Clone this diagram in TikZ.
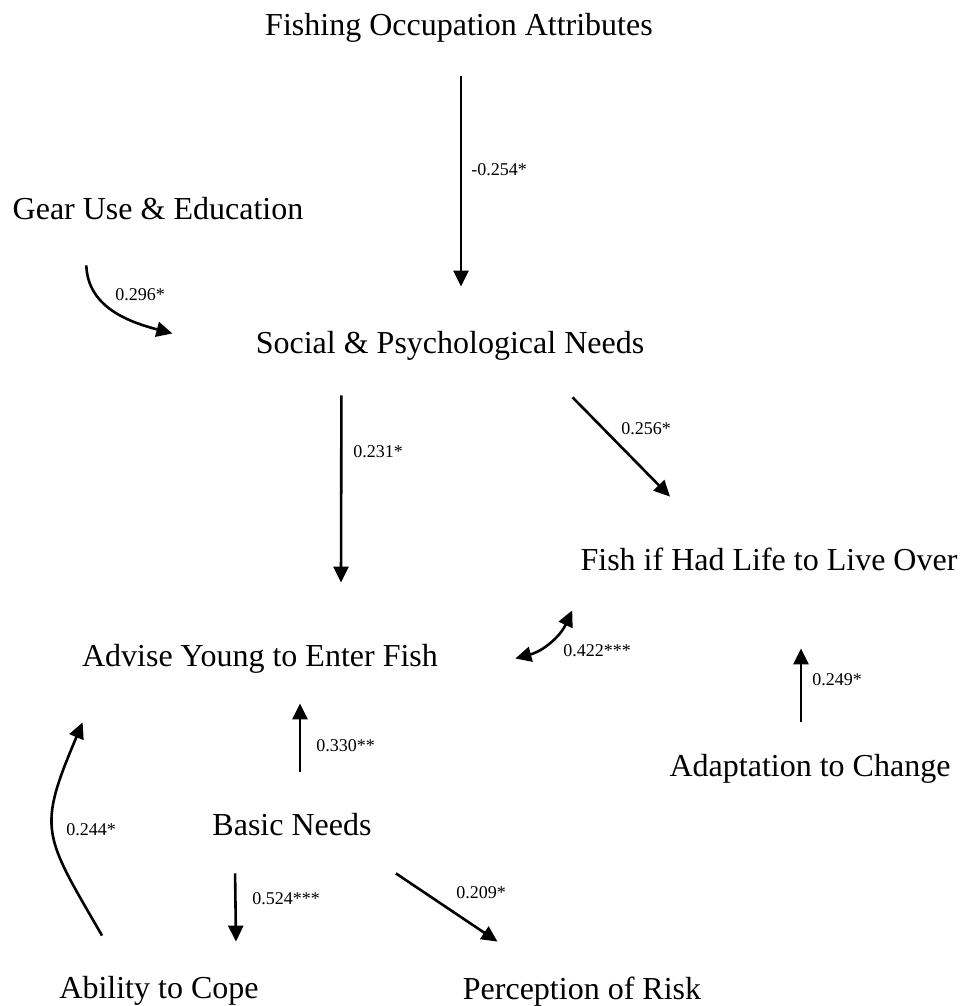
\documentclass[tikz,border=0pt]{standalone}
\usepackage{fontspec}
\setmainfont{Liberation Serif}
\usetikzlibrary{arrows.meta}
\tikzset{
  var/.style={inner sep=0pt, anchor=base, font=\fontsize{16}{19}\selectfont, text height=11pt, text depth=3.5pt},
  coef/.style={inner sep=0pt, anchor=west, font=\fontsize{9}{11}\selectfont},
  effect/.style={-{Triangle[length=8pt, width=7.5pt]}, line width=1.3pt},
  mutual/.style={{Triangle[length=8pt, width=7.5pt]}-{Triangle[length=8pt, width=7.5pt]}, line width=1.3pt},
}
\begin{document}
\begin{tikzpicture}[x=0.5pt, y=-0.5pt]
    \useasboundingbox (0,0) rectangle (961,1006);
    % variables
    \node[var] (occ)    at (459,36)  {Fishing Occupation Attributes};
    \node[var] (gear)   at (158,219) {Gear Use \& Education};
    \node[var] (social) at (450,353) {Social \& Psychological Needs};
    \node[var] (over)   at (769,570) {Fish if Had Life to Live Over};
    \node[var] (advise) at (260,666) {Advise Young to Enter Fish};
    \node[var] (adapt)  at (810,776) {Adaptation to Change};
    \node[var] (basic)  at (292,835) {Basic Needs};
    \node[var] (cope)   at (159,998) {Ability to Cope};
    \node[var] (risk)   at (582,999) {Perception of Risk};
    % paths
    \draw[effect] ([shift={(2,33)}]occ.south) -- ([shift={(11,-44)}]social.north);
    \draw[effect] ([shift={(74,39)}]gear.south west) to[out=-88, in=165] ([shift={(-83,-12)}]social.west);
    \draw[effect] ([shift={(86,35)}]social.south west) -- ([shift={(81,-61)}]advise.north);
    \draw[effect] ([shift={(-72,37)}]social.south east) -- ([shift={(-99,-51)}]over.north);
    \draw[mutual] ([shift={(77,0)}]advise.east) to[bend right=25] ([shift={(-8,33)}]over.south west);
    \draw[effect] ([shift={(-9,-32)}]adapt.north) -- ([shift={(32,71)}]over.south);
    \draw[effect] ([shift={(8,-41)}]basic.north) -- ([shift={(40,30)}]advise.south);
    \draw[effect] ([shift={(43,-40)}]cope.north west) to[out=120, in=-113, looseness=1.4] ([shift={(1,49)}]advise.south west);
    \draw[effect] ([shift={(23,31)}]basic.south west) -- ([shift={(77,-34)}]cope.north);
    \draw[effect] ([shift={(24,31)}]basic.south east) -- ([shift={(35,-35)}]risk.north west);
    % coefficients
    \node[coef] (k1)  at (471,170) {-0.254*};
    \node[coef] (k2)  at (115,295) {0.296*};
    \node[coef] (k3)  at (353,452) {0.231*};
    \node[coef] (k4)  at (621,429) {0.256*};
    \node[coef] (k5)  at (563,651) {0.422***};
    \node[coef] (k6)  at (812,680) {0.249*};
    \node[coef] (k7)  at (316,746) {0.330**};
    \node[coef] (k8)  at (66,830)  {0.244*};
    \node[coef] (k9)  at (252,899) {0.524***};
    \node[coef] (k10) at (456,893) {0.209*};
\end{tikzpicture}
\end{document}
